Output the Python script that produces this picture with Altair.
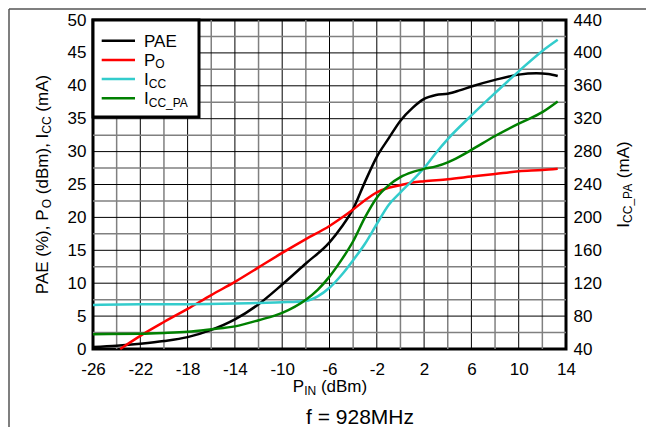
import altair as alt
import pandas as pd

# ---------------- data ----------------
pae_x = [-26, -24, -22, -20, -18, -16, -14, -12, -10, -8, -6, -5, -4, -3, -2, -1, 0, 1, 2, 3, 4, 5, 6, 8, 10, 11.5, 12.5, 13.3]
pae_y = [0.3, 0.5, 0.8, 1.2, 1.8, 2.9, 4.5, 6.8, 9.8, 13.0, 16.2, 18.5, 21.3, 25.4, 29.2, 32.0, 34.7, 36.6, 38.0, 38.6, 38.8, 39.3, 39.9, 40.9, 41.7, 41.9, 41.8, 41.5]

po_x = [-23.7, -22, -20, -18, -16, -14, -12, -10, -8, -6, -5, -4, -3, -2, -1, 0, 1, 2, 4, 6, 8, 10, 12, 13.3]
po_y = [0.0, 2.0, 4.1, 6.1, 8.2, 10.2, 12.4, 14.6, 16.7, 18.7, 19.9, 21.2, 22.6, 23.8, 24.5, 24.9, 25.3, 25.5, 25.8, 26.2, 26.6, 27.0, 27.2, 27.4]

icc_x = [-26, -22, -18, -14, -12, -10, -8, -7, -6, -5, -4, -3, -2, -1, 0, 1, 2, 3, 4, 6, 8, 10, 12, 13.3]
icc_y = [6.7, 6.8, 6.8, 6.9, 7.0, 7.1, 7.3, 8.0, 9.3, 11.2, 13.5, 16.0, 19.0, 21.9, 23.8, 25.6, 27.5, 29.8, 31.9, 35.5, 38.9, 42.2, 45.3, 47.0]

iccpa_x = [-26, -22, -20, -18, -16, -14, -12, -10, -8, -7, -6, -5, -4, -3, -2, -1, 0, 1, 2, 3, 4, 5, 6, 8, 10, 12, 13.3]
iccpa_y = [58, 58.5, 59.5, 61, 64, 67.5, 75, 84, 100, 112, 128, 148, 171, 200, 224, 239, 249, 255, 259, 262, 267, 274, 282, 299, 314, 328, 341]

series_names = ["PAE", "PO", "ICC"]
series_colors = ["#000000", "#FF0000", "#33CCCC"]
iccpa_color = "#008000"

x_ticks = list(range(-26, 15, 4))
x_grid_major = list(range(-22, 14, 4))
x_grid_minor = list(range(-24, 14, 4))
y_left_ticks = list(range(0, 51, 5))
y_grid_major = list(range(5, 50, 5))
y_grid_minor = [2.5 + 5 * i for i in range(10)]
y_right_ticks = list(range(40, 441, 40))

FONT = "Liberation Sans"
FS = 17      # main text size
SS = 12      # subscript size

# ---------------- layout (plot area 473 x 329, origin at page (93,20)) ----------------
W, H = 473, 329
PAD = {"left": 85, "top": 12, "right": 80, "bottom": 78}

xs = alt.Scale(domain=[-26, 14], nice=False, zero=False)
ys_left = alt.Scale(domain=[0, 50], nice=False, zero=False)
ys_right = alt.Scale(domain=[40, 440], nice=False, zero=False)

one = pd.DataFrame({"k": [0]})

# Arial / Liberation Sans advance widths (1/1000 em)
ADV = {"P": 667, "A": 667, "E": 667, "O": 778, "I": 278, "C": 722, "N": 722, "_": 556,
       " ": 278, "(": 333, ")": 333, "%": 889, ",": 278, "d": 556, "B": 667, "m": 833}


def tw(s, size):
    return sum(ADV[c] for c in s) * size / 1000.0


def split_lead(t):
    s = t.lstrip(" ")
    return len(t) - len(s), s


def rich_h(pieces, x0, y0, sub_dy=3):
    out = []
    x = x0
    for t, sub in pieces:
        size = SS if sub else FS
        n, s = split_lead(t)
        xs_ = x + n * ADV[" "] * size / 1000.0
        out.append(alt.Chart(one).mark_text(text=s, font=FONT, fontSize=size, align="left",
                                            baseline="alphabetic", color="black")
                   .encode(x=alt.value(xs_), y=alt.value(y0 + (sub_dy if sub else 0))))
        x += tw(t, size)
    return out


def rich_v(pieces, xb, yc, sub_dx=3):
    total = sum(tw(t, SS if s else FS) for t, s in pieces)
    y = yc + total / 2
    out = []
    for t, sub in pieces:
        size = SS if sub else FS
        n, s = split_lead(t)
        ys_ = y - n * ADV[" "] * size / 1000.0
        out.append(alt.Chart(one).mark_text(text=s, font=FONT, fontSize=size, align="left",
                                            baseline="alphabetic", angle=270, color="black")
                   .encode(x=alt.value(xb + (sub_dx if sub else 0)), y=alt.value(ys_)))
        y -= tw(t, size)
    return out


x_axis = alt.Axis(values=x_ticks, title=None, ticks=False, domain=False, grid=False,
                  labelFontSize=FS, labelFont=FONT, labelColor="black", labelPadding=12,
                  labelFlush=False, labelOverlap=False, orient="bottom",
                  labelExpr="datum.value + ''")
yl_axis = alt.Axis(values=y_left_ticks, title=None, ticks=False, domain=False, grid=False,
                   labelFontSize=FS, labelFont=FONT, labelColor="black", labelPadding=7,
                   labelFlush=False, labelOverlap=False, orient="left")
yr_axis = alt.Axis(values=y_right_ticks, title=None, ticks=False, domain=False, grid=False,
                   labelFontSize=FS, labelFont=FONT, labelColor="black", labelPadding=7,
                   labelFlush=False, labelOverlap=False, orient="right")

# ---------------- grid ----------------
gx_minor = alt.Chart(pd.DataFrame({"x": x_grid_minor})).mark_rule(color="#808080", strokeWidth=1.5).encode(
    x=alt.X("x:Q", scale=xs, axis=x_axis))
gx_major = alt.Chart(pd.DataFrame({"x": x_grid_major})).mark_rule(color="#000000", strokeWidth=1).encode(
    x=alt.X("x:Q", scale=xs, axis=x_axis))
gy_minor = alt.Chart(pd.DataFrame({"y": y_grid_minor})).mark_rule(color="#808080", strokeWidth=1.5).encode(
    y=alt.Y("y:Q", scale=ys_left, axis=yl_axis))
gy_major = alt.Chart(pd.DataFrame({"y": y_grid_major})).mark_rule(color="#000000", strokeWidth=1).encode(
    y=alt.Y("y:Q", scale=ys_left, axis=yl_axis))

# ---------------- left series ----------------
rows = []
for name, xv, yv in zip(series_names, [pae_x, po_x, icc_x], [pae_y, po_y, icc_y]):
    for a, b in zip(xv, yv):
        rows.append({"series": name, "x": a, "y": b})
left_df = pd.DataFrame(rows)

left_lines = alt.Chart(left_df).mark_line(strokeWidth=2.5, interpolate="monotone").encode(
    x=alt.X("x:Q", scale=xs, axis=x_axis),
    y=alt.Y("y:Q", scale=ys_left, axis=yl_axis),
    color=alt.Color("series:N", scale=alt.Scale(domain=series_names, range=series_colors), legend=None),
    detail="series:N",
)

left = alt.layer(gx_minor, gx_major, gy_minor, gy_major, left_lines)

right = alt.Chart(pd.DataFrame({"x": iccpa_x, "y": iccpa_y})).mark_line(
    strokeWidth=2.5, interpolate="monotone", color=iccpa_color).encode(
    x=alt.X("x:Q", scale=xs, axis=x_axis),
    y=alt.Y("y:Q", scale=ys_right, axis=yr_axis),
)

# ---------------- legend (drawn by hand for the subscripts) ----------------
deco = []
deco.append(alt.Chart(one).mark_rect(fill="white", stroke="black", strokeWidth=3).encode(
    x=alt.value(0), x2=alt.value(106), y=alt.value(0), y2=alt.value(97)))
legend_labels = [[("PAE", False)], [("P", False), ("O", True)], [("I", False), ("CC", True)],
                 [("I", False), ("CC_PA", True)]]
legend_colors = series_colors + [iccpa_color]
for i, (lab, col) in enumerate(zip(legend_labels, legend_colors)):
    ly = 20.7 + i * 19.2
    deco.append(alt.Chart(one).mark_rule(color=col, strokeWidth=2.5).encode(
        x=alt.value(8.7), x2=alt.value(42), y=alt.value(ly)))
    deco += rich_h(lab, 51, ly + 6, sub_dy=2.5)

# ---------------- axis titles ----------------
left_title = [("PAE (%), P", False), ("O", True), (" (dBm), I", False), ("CC", True), (" (mA)", False)]
deco += rich_v(left_title, -45, H / 2)
right_title = [("I", False), ("CC_PA", True), (" (mA)", False)]
deco += rich_v(right_title, 536, H / 2)

x_title = [("P", False), ("IN", True), (" (dBm)", False)]
xt_w = sum(tw(t, SS if s else FS) for t, s in x_title)
deco += rich_h(x_title, 237 - xt_w / 2, 372, sub_dy=3)

deco.append(alt.Chart(one).mark_text(text="f = 928MHz", font=FONT, fontSize=21, align="center",
                                     baseline="alphabetic", color="black").encode(
    x=alt.value(267), y=alt.value(404)))

# outer frame (top and left edges)
deco.append(alt.Chart(one).mark_rule(color="#555555", strokeWidth=1.5).encode(
    x=alt.value(-84), x2=alt.value(W + PAD["right"]), y=alt.value(-11)))
deco.append(alt.Chart(one).mark_rule(color="#555555", strokeWidth=1.5).encode(
    x=alt.value(-84), y=alt.value(-11), y2=alt.value(H + PAD["bottom"])))

chart = alt.layer(left, right, *deco).resolve_scale(y="independent").properties(
    width=W, height=H,
    autosize=alt.AutoSizeParams(type="none"),
    padding=PAD,
).configure(font=FONT).configure_view(stroke="black", strokeWidth=3)

chart.save("out.html", embed_options={"renderer": "svg", "actions": False})
